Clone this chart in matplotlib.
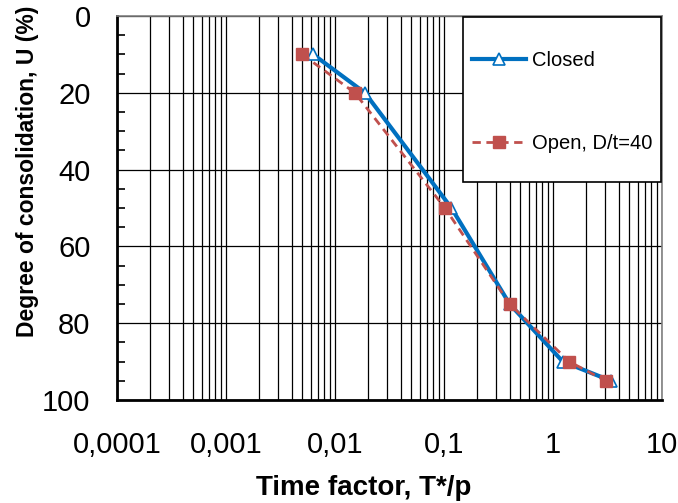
import matplotlib
matplotlib.use("Agg")
import matplotlib.pyplot as plt
from matplotlib.patches import Rectangle
from matplotlib.ticker import LogLocator, FixedLocator, MultipleLocator, NullFormatter

plt.rcParams['font.family'] = ['Liberation Sans', 'DejaVu Sans']

# Données
t_closed = [0.0063, 0.0188, 0.117, 0.40, 1.23, 3.4]
u_closed = [10, 20, 50, 75, 90, 95]
t_open = [0.0050, 0.0152, 0.102, 0.40, 1.41, 3.04]
u_open = [10, 20, 50, 75, 90, 95]

x_ticks = [0.0001, 0.001, 0.01, 0.1, 1, 10]
x_labels = ["0,0001", "0,001", "0,01", "0,1", "1", "10"]
y_ticks = [0, 20, 40, 60, 80, 100]

W, H = 678, 503
fig = plt.figure(figsize=(W / 100, H / 100), dpi=100)
ax = fig.add_axes([117 / W, 1 - 400 / H, 545 / W, 384 / H])

ax.plot(t_closed, u_closed, color="#0070c0", lw=3.0, marker="^", ms=9,
        mfc="white", mec="#0070c0", mew=1.2, label="Closed", zorder=4)
ax.plot(t_open, u_open, color="#c0504d", lw=2.0, ls=(0, (3, 2)), marker="s", ms=8,
        mfc="#c0504d", mec="#c0504d", label="Open, D/t=40", zorder=5)

ax.set_xscale("log")
ax.set_xlim(1e-4, 10)
ax.set_ylim(100, 0)

ax.xaxis.set_major_locator(FixedLocator(x_ticks))
ax.set_xticklabels(x_labels)
ax.xaxis.set_minor_locator(LogLocator(base=10, subs=range(2, 10), numticks=20))
ax.xaxis.set_minor_formatter(NullFormatter())
ax.set_yticks(y_ticks)
ax.yaxis.set_minor_locator(MultipleLocator(5))

ax.grid(True, which="major", axis="both", color="black", lw=0.9)
ax.grid(True, which="minor", axis="x", color="black", lw=0.9)

ax.tick_params(axis="x", which="both", length=0, labelsize=21, pad=22)
ax.tick_params(axis="y", which="major", length=0, labelsize=21, pad=19)
ax.tick_params(axis="y", which="minor", direction="in", length=6, width=1.2, color="black")

for s in ["left", "bottom"]:
    ax.spines[s].set_color("black")
    ax.spines[s].set_linewidth(2)
for s in ["top", "right"]:
    ax.spines[s].set_color("#808080")
    ax.spines[s].set_linewidth(1.2)

# cadre de la légende (style Excel)
bx0, bx1, by0, by1 = 463 / W, 661 / W, 1 - 182 / H, 1 - 17 / H
fig.patches.append(Rectangle((bx0, by0), bx1 - bx0, by1 - by0, transform=fig.transFigure,
                             facecolor="white", edgecolor="black", lw=1.2, zorder=10))
leg = fig.legend(*ax.get_legend_handles_labels(), loc="center",
                 bbox_to_anchor=((bx0 + bx1) / 2, 1 - 102 / H), fontsize=14.5,
                 frameon=False, handlelength=2.7, labelspacing=3.2,
                 borderpad=0, handletextpad=0.25)
leg.set_zorder(11)

fig.text(364 / W, 1 - 488 / H, "Time factor, T*/p", ha="center", va="center",
         fontsize=20, fontweight="bold")
fig.text(28 / W, 1 - 171 / H, "Degree of consolidation, U (%)", ha="center", va="center",
         rotation=90, fontsize=16.5, fontweight="bold")

fig.savefig("out.png", dpi=100)
